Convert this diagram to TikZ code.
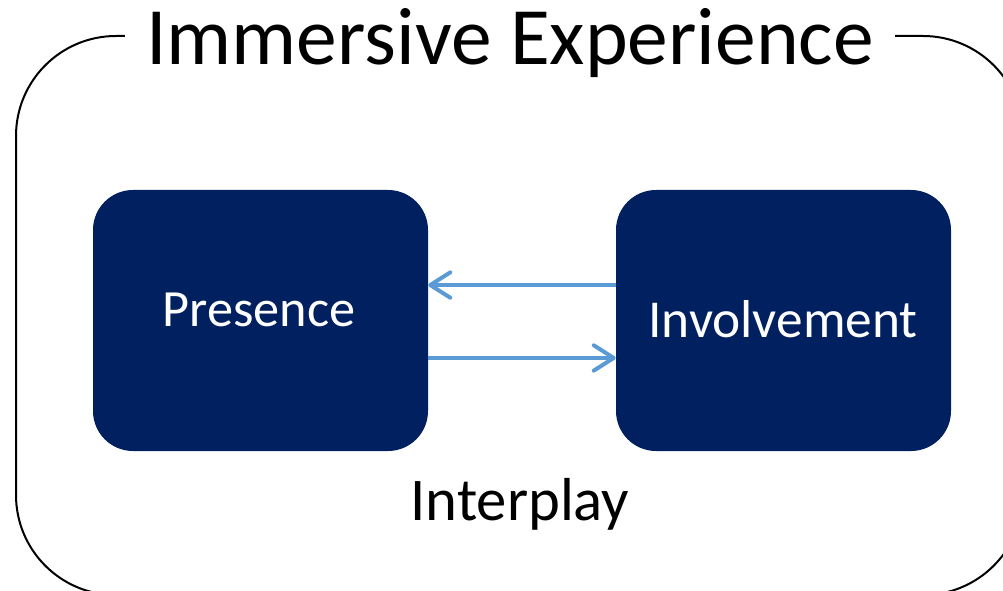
\documentclass[tikz,border=0pt]{standalone}
\usepackage{fontspec}
\setmainfont{Carlito}
\usetikzlibrary{arrows.meta}
\definecolor{navy}{HTML}{002060}
\definecolor{linkblue}{HTML}{5B9BD5}
\tikzset{
  block/.style={fill=navy, draw=none, rounded corners=30pt,
    minimum width=251.25pt, minimum height=195.75pt, inner sep=0pt},
  blocktext/.style={text=white, anchor=base, inner sep=0pt},
  link/.style={draw=linkblue, line width=3pt,
    -{Straight Barb[length=15pt,width=19pt,line width=3pt,round]}},
  frame/.style={draw=black, line width=1.5pt, rounded corners=75pt}
}
\begin{document}
\begin{tikzpicture}[x=0.75pt, y=-0.75pt]
  \useasboundingbox (0,0) rectangle (1003,591);
  % outer frame with the heading set into its top edge
  \draw[frame] (16,36) rectangle (1023,595);
  \node[fill=white, inner xsep=16pt, inner ysep=2pt, anchor=base,
        font=\fontsize{61.1pt}{70pt}\selectfont] (title) at (510,65) {Immersive Experience};
  % the two blocks
  \node[block] (presence) at (260.5,320.5) {};
  \node[block] (involvement) at (783.5,320.5) {};
  \node[blocktext, font=\fontsize{39.2pt}{45pt}\selectfont] (presence-label) at (259,327) {Presence};
  \node[blocktext, font=\fontsize{40pt}{46pt}\selectfont] (involvement-label) at (783,338) {Involvement};
  % mutual influence
  \draw[link] ([yshift=26.6pt]involvement.west) -- ([yshift=26.6pt]presence.east);
  \draw[link] ([yshift=-28.1pt]presence.east) -- ([yshift=-28.1pt]involvement.west);
  \node[anchor=base, inner sep=0pt, font=\fontsize{45.5pt}{52pt}\selectfont] (interplay) at (520,520) {Interplay};
\end{tikzpicture}
\end{document}
